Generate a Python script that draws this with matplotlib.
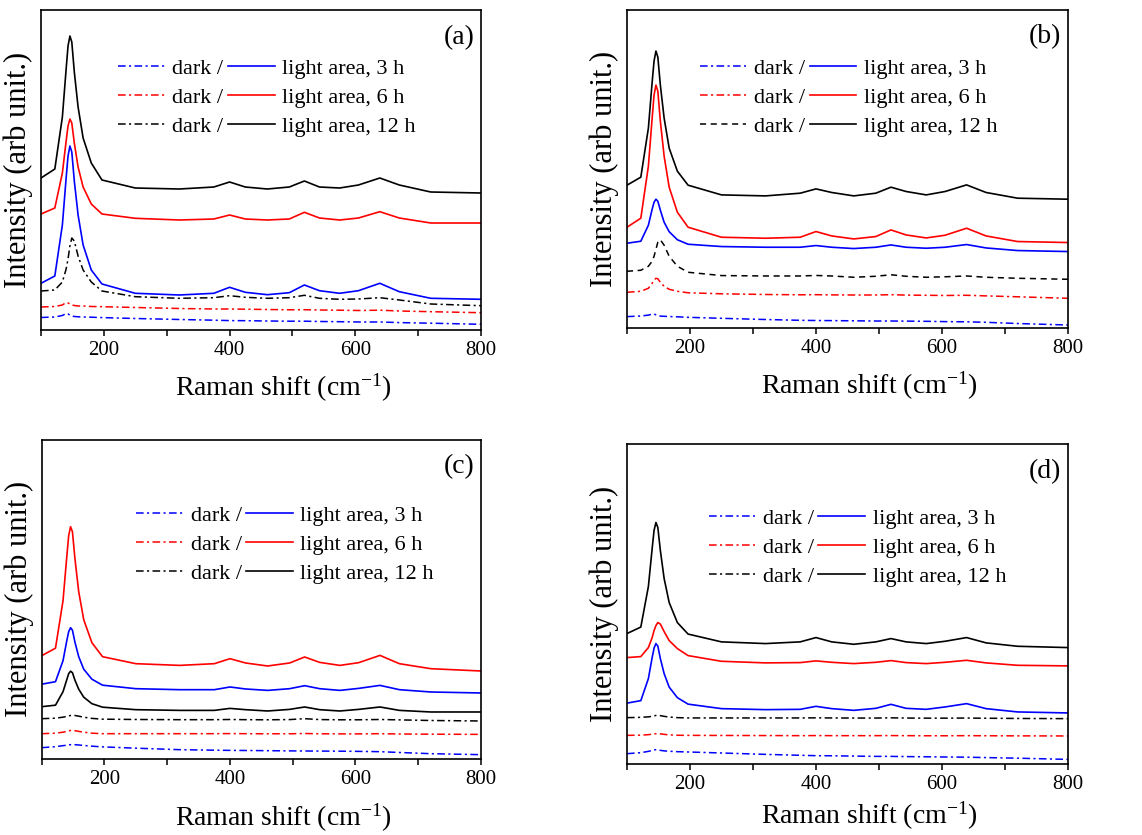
import matplotlib
matplotlib.use('Agg')
import matplotlib.pyplot as plt
from matplotlib.ticker import MultipleLocator, NullLocator

plt.rcParams['font.family'] = ['Liberation Serif', 'DejaVu Serif']
plt.rcParams['mathtext.fontset'] = 'custom'
plt.rcParams['mathtext.rm'] = 'Liberation Serif'
plt.rcParams['mathtext.it'] = 'Liberation Serif:italic'

# Raman shift (cm-1), shared by every curve
shift = [100, 122, 134, 140, 143, 146, 149, 153, 159, 167, 180, 197, 250, 320, 375,
         400, 425, 460, 495, 519, 543, 575, 605, 639, 670, 720, 800]

# intensities (arb. unit)
# panel (a)
a_dark3 = [12.5, 13, 14.5, 16.5, 16, 15, 14, 13.5, 13.2, 13, 12.8, 12.4, 11.5, 10.5, 9.8,
           9.4, 9.3, 9, 8.8, 8.8, 8.5, 8.3, 8, 8, 7.4, 6.8, 5.7]
a_dark6 = [23, 23.5, 25, 27.5, 27, 26, 25, 24.5, 24, 24, 23.5, 23.3, 22.5, 21.5, 21,
           21, 20.8, 20.5, 20.2, 20.3, 20, 19.8, 19.5, 19.8, 19, 18.3, 17.3]
a_dark12 = [39, 40, 48, 61, 71, 84, 92, 89, 74, 60, 48, 39, 33.3, 31.7, 32.3,
            34.3, 32.7, 31.7, 32.3, 34.7, 31.7, 30.7, 31, 32.3, 30, 26, 24.3]
a_light3 = [46.7, 54, 105, 152, 174, 184, 178, 149, 115, 85, 60, 46, 36.7, 35, 36.7,
            42.7, 37.7, 35.3, 37.3, 45, 39.3, 36.7, 39.3, 46.7, 38.3, 31.7, 30.7]
a_light6 = [116, 122, 157, 189, 204, 211, 207, 187, 163, 143, 126, 116, 111.7, 110, 111,
            115, 111, 110, 111, 117.7, 112, 110, 112, 118.3, 112, 107, 107]
a_light12 = [152, 161, 213, 261, 284, 294, 288, 258, 223, 192, 167, 150, 142, 141, 143,
             148, 143, 141, 143, 149, 143, 142, 145, 152, 145, 138, 137]

# panel (b)
b_dark3 = [11.7, 12.3, 13.2, 14.2, 14.3, 13.5, 12.8, 12.2, 12, 11.8, 11.5, 11, 10, 8.8, 8,
           7.8, 7.7, 7.5, 7.3, 7.3, 7.2, 7, 6.7, 6.5, 6, 4.8, 3.3]
b_dark6 = [36, 37, 40, 45, 48, 50, 49.5, 46, 42, 39, 37, 35.5, 34.5, 33.8, 33.5,
           33.6, 33.4, 33.3, 33.3, 33.6, 33.2, 33, 32.8, 33, 32.4, 31.5, 30]
b_dark12 = [57, 58, 62, 67, 72, 79, 86, 88.5, 83, 72, 62, 56, 52.7, 52.3, 52.3,
            52.8, 52.3, 51, 52, 53.5, 52, 51, 51.5, 52.3, 51, 50, 49]
b_light3 = [85, 87, 103, 119, 126, 129, 127, 118, 106, 96.5, 88.5, 84, 81.7, 81, 81,
            82.7, 81, 79.7, 81, 83.3, 81, 80, 81, 83.7, 80.3, 77.7, 76.7]
b_light6 = [101, 110, 162, 210, 233, 243, 237, 207, 172, 141, 116, 101, 91, 90, 91,
            96.7, 92.3, 89.3, 91.7, 98.3, 93.3, 90.3, 93, 100, 92.3, 86.7, 85.7]
b_light12 = [143, 151, 200, 246, 267, 277, 271, 243, 210, 180, 157, 143, 133.3, 132.3, 135,
             139.3, 135.7, 132.3, 135, 141, 136.7, 133.3, 136.7, 143.3, 135.7, 130, 129]

# panel (c)
c_dark3 = [11, 12, 13, 13.5, 13.8, 14, 14, 14, 13.7, 13.2, 12.5, 11.8, 10.5, 9, 8.5,
           8.3, 8.2, 8, 7.8, 7.7, 7.6, 7.5, 7.3, 7, 6.2, 5, 4]
c_dark6 = [25, 25.5, 26.5, 27.3, 27.8, 28.2, 28.3, 28, 27.3, 26.5, 25.5, 25, 25, 25, 25,
           25.1, 25, 24.9, 24.9, 25.2, 24.9, 24.8, 24.8, 25, 24.7, 24.5, 24.3]
c_dark12 = [40, 40.5, 41.5, 42.3, 42.8, 43.2, 43.3, 43.2, 42.5, 41.5, 40.3, 39.5, 39.2, 39, 39,
            39.2, 39, 38.9, 39.1, 40, 39.1, 38.9, 38.9, 39.2, 38.8, 38.2, 37.7]
c_light3 = [74.5, 77, 98, 118, 127, 131, 128.5, 116.5, 102, 89.5, 79.5, 73.5, 70, 69, 69,
            71.7, 69.7, 68.3, 70, 73, 70, 68.3, 70.3, 73.3, 69, 66.7, 65.7]
c_light6 = [103, 110.5, 158, 202, 223, 232, 227, 200, 167, 139, 116, 102, 95, 93.3, 95,
            100, 95.7, 92.7, 95.7, 101.7, 96.3, 93.3, 96, 103.3, 95, 90, 87.7]
c_light12 = [52, 53.5, 67, 79, 85, 87.5, 86, 78.5, 69.5, 61.5, 55, 51.5, 49, 48.3, 48.3,
             50.3, 49, 47.7, 49.3, 51.7, 49, 47.7, 49.3, 51.7, 48.3, 46.7, 46.7]

# panel (d)
d_dark3 = [10, 11, 12.3, 13.3, 13.8, 14, 13.8, 13.3, 12.8, 12.4, 12, 11.7, 10.7, 9.3, 8.4,
           8, 7.9, 7.6, 7.3, 7.3, 7.1, 6.9, 6.7, 6.5, 6.1, 5.5, 4.3]
d_dark6 = [28.3, 28.5, 29, 29.5, 29.8, 30, 30, 29.8, 29.3, 28.8, 28.4, 28.3, 28.2, 28.1, 28,
           28.1, 28, 28, 28, 28.1, 28, 27.9, 27.9, 28, 27.9, 27.8, 27.7]
d_dark12 = [46, 46.3, 46.8, 47.3, 47.8, 48.2, 48.3, 48, 47.3, 46.6, 46, 45.7, 45.7, 45.7, 45.7,
            45.8, 45.7, 45.6, 45.6, 45.8, 45.6, 45.5, 45.5, 45.6, 45.4, 45.2, 45]
d_light3 = [60.5, 63, 85, 106, 115.5, 120, 117.5, 105, 90, 76.5, 66, 59.5, 55, 54, 54.3,
            57.3, 55, 53.3, 55.3, 59.3, 55.3, 54.3, 56.7, 60, 55, 51.7, 50.7]
d_light6 = [106, 107, 116, 126, 133, 138, 141, 139.5, 132, 123, 115, 108, 102.3, 100.7, 101,
            102.7, 101.3, 100, 101.3, 103, 101, 100, 101.3, 103.3, 100.7, 98.3, 97.7]
d_light12 = [130, 136.5, 177, 215, 233, 241, 236, 213, 185, 161, 141, 129.5, 121.7, 120, 121.7,
             126, 121.7, 119.3, 121.7, 125, 121.7, 120, 122.3, 126, 120.7, 117.3, 116]

panel_names = ['(a)', '(b)', '(c)', '(d)']
light_labels = ['light area, 3 h', 'light area, 6 h', 'light area, 12 h']
colors = ['#0000ff', '#ff0000', '#000000']

dashdot = (0, (5, 2.2, 1.4, 2.2))
dashed = (0, (4, 3))

fig = plt.figure(figsize=(11.42, 8.35), dpi=100)

# axes rect, y top, dark curves, light curves, legend anchor, xlabel y, dark styles
panels = [
    ([0.0359, 0.6048, 0.3853, 0.3832], 320, (a_dark3, a_dark6, a_dark12), (a_light3, a_light6, a_light12),
     (0.175, 0.848), -0.13, [dashdot] * 3),
    ([0.5490, 0.6068, 0.3862, 0.3812], 318, (b_dark3, b_dark6, b_dark12), (b_light3, b_light6, b_light12),
     (0.165, 0.848), -0.13, [dashdot, dashdot, dashed]),
    ([0.0365, 0.0914, 0.3847, 0.3820], 319, (c_dark3, c_dark6, c_dark12), (c_light3, c_light6, c_light12),
     (0.215, 0.795), -0.135, [dashdot] * 3),
    ([0.5490, 0.0854, 0.3862, 0.3824], 319, (d_dark3, d_dark6, d_dark12), (d_light3, d_light6, d_light12),
     (0.185, 0.80), -0.112, [dashdot] * 3),
]

for i, (rect, ytop, darks, lights, leg_pos, xlab_y, styles) in enumerate(panels):
    ax = fig.add_axes(rect)
    dark_lines = []
    light_lines = []
    for y, c, ls in zip(darks, colors, styles):
        ln, = ax.plot(shift, y, color=c, lw=1.1, linestyle=ls)
        dark_lines.append(ln)
    for y, c in zip(lights, colors):
        ln, = ax.plot(shift, y, color=c, lw=1.2)
        light_lines.append(ln)

    ax.set_xlim(100, 800)
    ax.set_ylim(0, ytop)
    ax.xaxis.set_major_locator(MultipleLocator(200))
    ax.xaxis.set_minor_locator(MultipleLocator(100))
    ax.yaxis.set_major_locator(NullLocator())
    ax.tick_params(axis='x', which='both', direction='out', length=4, width=1.1,
                   labelsize=15, pad=4)
    for sp in ax.spines.values():
        sp.set_linewidth(1.2)

    ax.set_xlabel('Raman shift (cm$^{-1}$)', fontsize=20)
    ax.xaxis.set_label_coords(0.55, xlab_y)
    ax.set_ylabel('Intensity (arb unit.)', fontsize=22)
    ax.yaxis.set_label_coords(-0.018, 0.5)

    ax.text(0.985, 0.915, panel_names[i], transform=ax.transAxes, fontsize=20,
            ha='right', va='center')

    ax.legend(dark_lines + light_lines, ['dark /'] * 3 + light_labels, ncol=2,
              loc='upper left', bbox_to_anchor=leg_pos, frameon=False, fontsize=16,
              handlelength=2.1, handletextpad=0.35, columnspacing=0.2,
              labelspacing=0.38, borderpad=0, borderaxespad=0)

fig.savefig('out.png', dpi=100)
